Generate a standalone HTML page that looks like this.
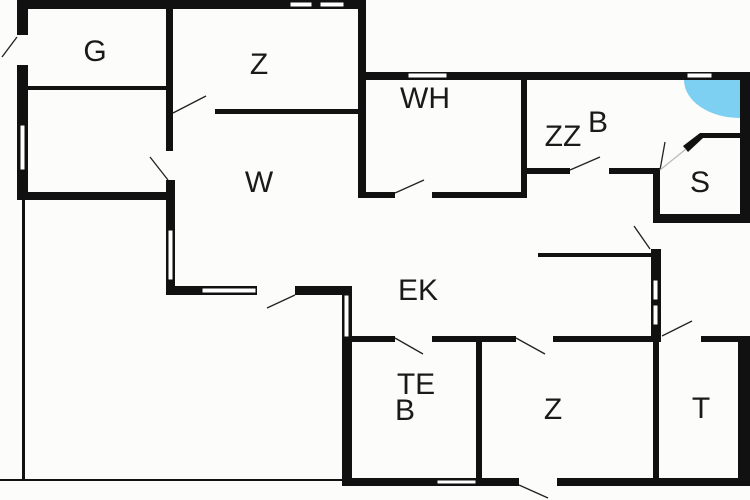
<!DOCTYPE html>
<html><head><style>
html,body{margin:0;padding:0;background:#fcfcfa;}
svg{display:block}
text{font-family:"Liberation Sans",sans-serif;font-size:30px;fill:#1a1a1a;text-anchor:middle;dominant-baseline:middle}
</style></head><body>
<svg width="750" height="500" viewBox="0 0 750 500">
<rect width="750" height="500" fill="#fcfcfa"/>
<g fill="#111">
<rect x="17" y="0" width="349" height="9"/>
<rect x="17" y="0" width="11" height="35"/>
<rect x="17" y="65" width="11" height="135"/>
<rect x="28" y="86" width="139" height="4"/>
<rect x="166" y="9" width="7" height="142"/>
<rect x="166" y="180" width="9" height="20"/>
<rect x="17" y="192" width="158" height="8"/>
<rect x="358" y="0" width="8" height="80"/>
<rect x="215" y="109" width="145" height="5"/>
<rect x="166" y="200" width="9" height="95"/>
<rect x="166" y="286" width="35" height="9"/>
<rect x="201" y="286" width="56" height="9"/>
<rect x="295" y="286" width="57" height="9"/>
<rect x="342" y="286" width="10" height="55"/>
<rect x="358" y="72" width="392" height="8"/>
<rect x="740" y="72" width="10" height="151"/>
<rect x="358" y="72" width="8" height="126"/>
<rect x="521" y="80" width="6" height="118"/>
<rect x="358" y="192" width="37" height="6"/>
<rect x="432" y="192" width="95" height="6"/>
<rect x="527" y="168" width="43" height="6"/>
<rect x="609" y="168" width="48" height="6"/>
<rect x="653" y="168" width="7" height="55"/>
<rect x="660" y="214" width="90" height="9"/>
<rect x="700" y="133" width="40" height="5"/>
<polygon points="683,146 700,133 703,138 688,152"/>
<rect x="538" y="253" width="114" height="4"/>
<rect x="651" y="249" width="10" height="93"/>
<rect x="342" y="336" width="53" height="6"/>
<rect x="432" y="336" width="84" height="6"/>
<rect x="553" y="336" width="108" height="6"/>
<rect x="701" y="336" width="49" height="6"/>
<rect x="342" y="336" width="10" height="150"/>
<rect x="476" y="342" width="6" height="140"/>
<rect x="653" y="342" width="6" height="140"/>
<rect x="738" y="336" width="12" height="150"/>
<rect x="342" y="478" width="177" height="8"/>
<rect x="557" y="478" width="193" height="8"/>
<rect x="22" y="200" width="3" height="281"/>
<rect x="0" y="479" width="343" height="2"/>
</g>
<g fill="#fff" stroke="#111" stroke-width="1">
<rect x="290" y="2" width="22" height="5"/>
<rect x="320" y="2" width="24" height="5"/>
<rect x="20" y="125" width="5" height="45"/>
<rect x="168" y="230" width="5" height="50"/>
<rect x="202" y="288" width="54" height="5"/>
<rect x="344" y="295" width="5" height="42"/>
<rect x="408" y="73" width="39" height="5"/>
<rect x="687" y="73" width="25" height="5"/>
<rect x="653" y="280" width="5" height="20"/>
<rect x="653" y="305" width="5" height="20"/>
<rect x="437" y="480" width="39" height="4"/>
</g>
<path d="M740,80 L684,80 A56,38 0 0 0 740,118 Z" fill="#7dd0f2"/>
<g stroke="#222" stroke-width="1.3" fill="none">
<line x1="17" y1="37" x2="2" y2="57"/>
<line x1="173" y1="113" x2="206" y2="96"/>
<line x1="168" y1="180" x2="150" y2="157"/>
<line x1="295" y1="295" x2="267" y2="308"/>
<line x1="395" y1="193" x2="424" y2="180"/>
<line x1="570" y1="170" x2="600" y2="157"/>
<line x1="660" y1="170" x2="665" y2="142"/>
<line x1="660" y1="170" x2="686" y2="149" stroke="#bbb"/>
<line x1="650" y1="249" x2="634" y2="226"/>
<line x1="395" y1="338" x2="423" y2="354"/>
<line x1="516" y1="338" x2="545" y2="354"/>
<line x1="662" y1="336" x2="692" y2="321"/>
<line x1="519" y1="485" x2="548" y2="498"/>
</g>
<text x="95" y="53">G</text>
<text x="259" y="66">Z</text>
<text x="425" y="100">WH</text>
<text x="563" y="138">ZZ</text>
<text x="598" y="124">B</text>
<text x="700" y="184">S</text>
<text x="259" y="184">W</text>
<text x="418" y="292">EK</text>
<text x="416" y="386">TE</text>
<text x="405" y="412">B</text>
<text x="553" y="411">Z</text>
<text x="701" y="410">T</text>
</svg>
</body></html>
